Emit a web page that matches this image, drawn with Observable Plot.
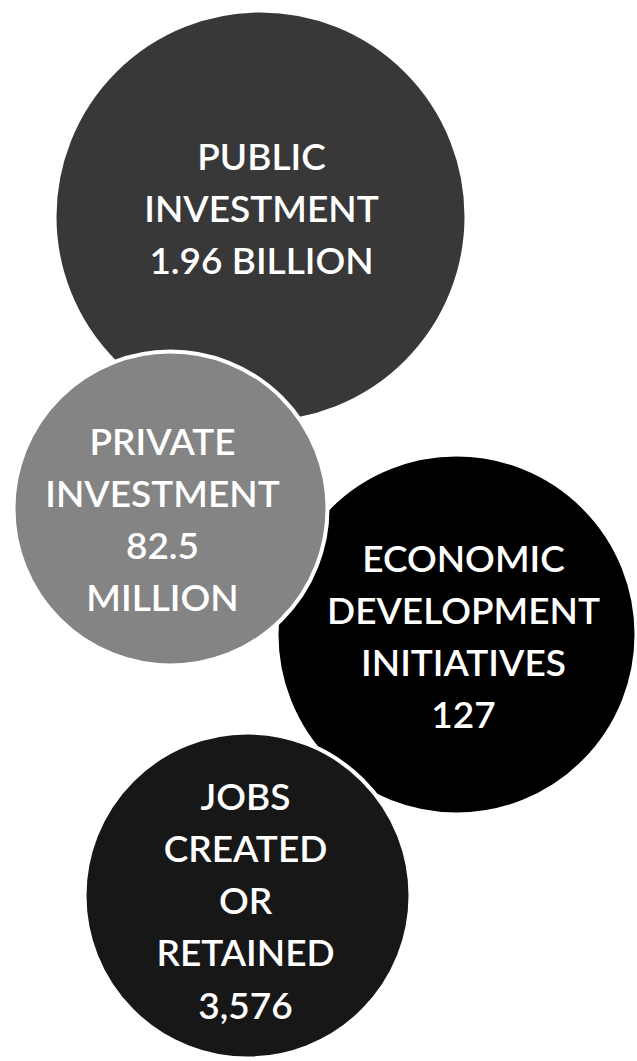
<!DOCTYPE html>
<html>
<head>
<meta charset="utf-8">
<script src="https://cdn.jsdelivr.net/npm/d3@7"></script>
<script src="https://cdn.jsdelivr.net/npm/@observablehq/plot@0.6"></script>
<style>
  html, body { margin: 0; padding: 0; background: #ffffff; }
  #chart svg { display: block; }
</style>
</head>
<body>
<div id="chart"></div>
<script>
// ---- data ----
const categories = ["PUBLIC\nINVESTMENT", "PRIVATE\nINVESTMENT", "ECONOMIC\nDEVELOPMENT\nINITIATIVES", "JOBS\nCREATED\nOR\nRETAINED"];
const valueLabels = ["1.96 BILLION", "82.5\nMILLION", "127", "3,576"];

// ---- layout (positions / sizes / styles, kept apart from the data) ----
const centersX = [260, 170, 456, 247];
const centersY = [216, 508, 634, 895];
const radii = [206, 157, 180, 163];
const textX = [261, 162, 463, 245];
const textY = [205, 516, 633, 897];
const fills = ["#383838", "#848484", "#000000", "#171717"];

const W = 637, H = 1061;
const rows = categories.map((c, i) => ({
  label: c + "\n" + valueLabels[i],
  cx: centersX[i], cy: centersY[i], r: radii[i],
  tx: textX[i], ty: textY[i], fill: fills[i]
}));

const chart = Plot.plot({
  width: W,
  height: H,
  margin: 0,
  x: {domain: [0, W], range: [0, W], axis: null},
  y: {domain: [0, H], range: [0, H], axis: null},
  r: {type: "identity"},
  color: {type: "identity"},
  style: {background: "#ffffff"},
  marks: [
    Plot.dot(rows, {x: "cx", y: "cy", r: "r", fill: "fill", stroke: "#ffffff", strokeWidth: 4}),
    Plot.text(rows, {
      x: "tx", y: "ty", text: "label",
      fill: "#ffffff", fontSize: 37, fontWeight: 600,
      fontFamily: "Lato, 'Noto Sans', sans-serif",
      lineHeight: 1.41, lineAnchor: "middle", textAnchor: "middle"
    })
  ]
});
document.getElementById("chart").appendChild(chart);
</script>
</body>
</html>
